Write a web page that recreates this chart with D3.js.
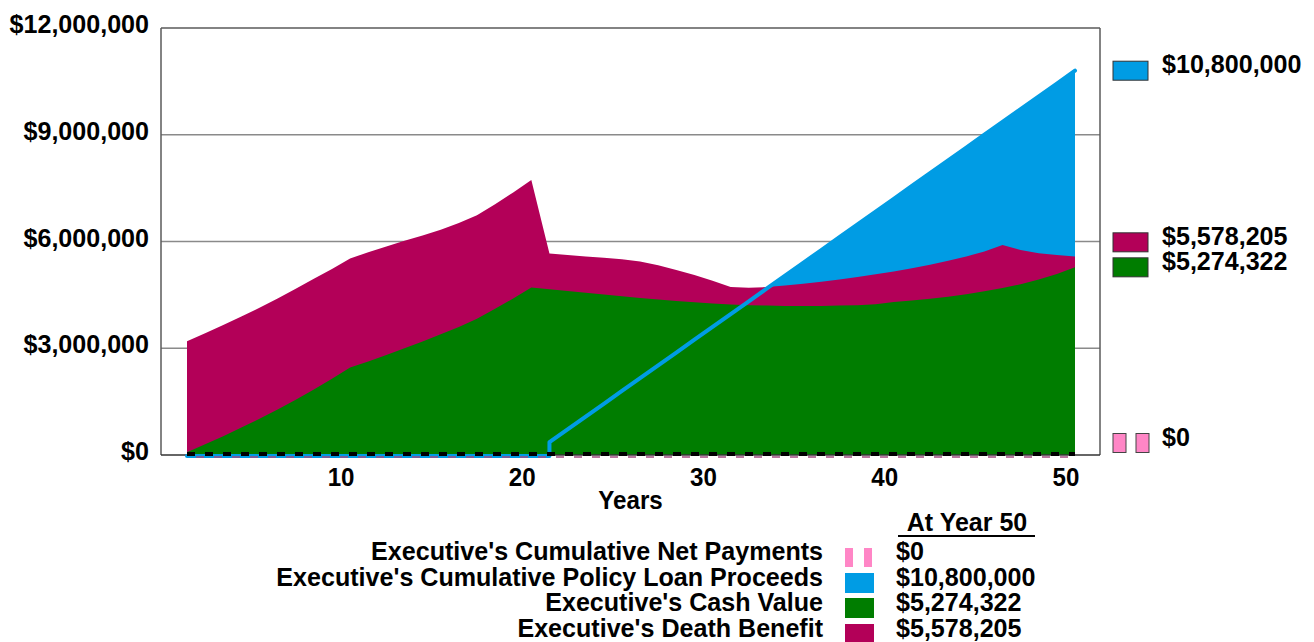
<!DOCTYPE html>
<html>
<head>
<meta charset="utf-8">
<script src="https://cdn.jsdelivr.net/npm/d3@7"></script>
<style>
  html, body { margin: 0; padding: 0; background: #fff; }
  svg { display: block; }
  text { font-family: "Liberation Sans", Arial, sans-serif; font-weight: bold; fill: #000; }
</style>
</head>
<body>
<svg id="chart" width="1314" height="642"></svg>
<script>
// Policy illustration values by policy year
const years = d3.range(1, 51);

const deathBenefit = [
  3200000, 3420000, 3650000, 3890000, 4140000, 4400000, 4670000, 4950000, 5230000, 5520000,
  5700000, 5860000, 6020000, 6170000, 6330000, 6520000, 6740000, 7050000, 7380000, 7730000,
  5660000, 5620000, 5580000, 5540000, 5500000, 5440000, 5330000, 5200000, 5060000, 4900000,
  4720000, 4700000, 4720000, 4760000, 4810000, 4870000, 4930000, 5000000, 5080000, 5160000,
  5250000, 5350000, 5460000, 5580000, 5720000, 5900000, 5760000, 5670000, 5620000, 5578205
];

const cashValue = [
  80000, 300000, 530000, 770000, 1020000, 1280000, 1550000, 1840000, 2140000, 2460000,
  2630000, 2810000, 3000000, 3190000, 3390000, 3600000, 3830000, 4110000, 4400000, 4710000,
  4660000, 4610000, 4560000, 4510000, 4460000, 4410000, 4370000, 4330000, 4290000, 4260000,
  4230000, 4210000, 4200000, 4190000, 4190000, 4190000, 4200000, 4210000, 4240000, 4300000,
  4340000, 4390000, 4450000, 4520000, 4600000, 4690000, 4800000, 4930000, 5090000, 5274322
];

const loanProceeds = [
  0, 0, 0, 0, 0, 0, 0, 0, 0, 0,
  0, 0, 0, 0, 0, 0, 0, 0, 0, 0,
  360000, 720000, 1080000, 1440000, 1800000, 2160000, 2520000, 2880000, 3240000, 3600000,
  3960000, 4320000, 4680000, 5040000, 5400000, 5760000, 6120000, 6480000, 6840000, 7200000,
  7560000, 7920000, 8280000, 8640000, 9000000, 9360000, 9720000, 10080000, 10440000, 10800000
];

const netPayments = years.map(() => 0);

const yTicks = [0, 3000000, 6000000, 9000000, 12000000];
const xTicks = [10, 20, 30, 40, 50];

const seriesNames = [
  "Executive's Cumulative Net Payments",
  "Executive's Cumulative Policy Loan Proceeds",
  "Executive's Cash Value",
  "Executive's Death Benefit"
];
const seriesColors = ["#ff86c6", "#009ce4", "#007d00", "#b30058"];
const seriesFinal = [
  netPayments[49], loanProceeds[49], cashValue[49], deathBenefit[49]
];

// ---- layout ----
const svg = d3.select("#chart");
const plot = { left: 161, top: 28, right: 1100, bottom: 455 };

const x = d3.scaleLinear().domain([1, 50]).range([187, 1075]);
const y = d3.scaleLinear().domain([0, 12000000]).range([plot.bottom, plot.top]);
const money = v => "$" + d3.format(",")(v);

// slightly condensed bold label
function label(g, px, py, str, size, anchor) {
  return g.append("text")
    .attr("transform", `translate(${px},${py}) scale(0.965,1)`)
    .attr("text-anchor", anchor || "start")
    .style("font-size", size + "px")
    .text(str);
}

// horizontal gridlines (behind the areas)
svg.append("g").selectAll("line")
  .data(yTicks.filter(v => v > 0 && v < 12000000))
  .join("line")
  .attr("x1", plot.left).attr("x2", plot.right)
  .attr("y1", d => y(d)).attr("y2", d => y(d))
  .attr("stroke", "#8a8a8a").attr("stroke-width", 1.5);

const rows = years.map((yr, i) => ({
  year: yr, db: deathBenefit[i], cv: cashValue[i], loan: loanProceeds[i], net: netPayments[i]
}));
const loanRows = rows.filter(d => d.loan > 0);

// loan proceeds area (only from the first loan year onward)
svg.append("path")
  .datum(loanRows)
  .attr("fill", seriesColors[1])
  .attr("d", d3.area().x(d => x(d.year)).y0(y(0)).y1(d => y(d.loan)));

// death benefit area
svg.append("path")
  .datum(rows)
  .attr("fill", seriesColors[3])
  .attr("d", d3.area().x(d => x(d.year)).y0(y(0)).y1(d => y(d.db)));

// cash value area
svg.append("path")
  .datum(rows)
  .attr("fill", seriesColors[2])
  .attr("d", d3.area().x(d => x(d.year)).y0(y(0)).y1(d => y(d.cv)));

// plot frame
const frame = svg.append("g").attr("stroke", "#5a5a5a").attr("stroke-width", 1.5).attr("fill", "none");
frame.append("line").attr("x1", plot.left).attr("x2", plot.left).attr("y1", plot.top).attr("y2", plot.bottom);
frame.append("line").attr("x1", plot.left).attr("x2", plot.right).attr("y1", plot.top).attr("y2", plot.top);
frame.append("line").attr("x1", plot.right).attr("x2", plot.right).attr("y1", plot.top).attr("y2", plot.bottom);
frame.append("line").attr("x1", plot.left).attr("x2", plot.right).attr("y1", plot.bottom).attr("y2", plot.bottom)
  .attr("stroke", "#333");

// loan proceeds line: zero until the first loan year, then the cumulative total
const firstLoan = loanRows[0].year;
const loanLinePts = rows.filter(d => d.year <= firstLoan).map(d => ({ year: d.year, v: 0 }))
  .concat(loanRows.map(d => ({ year: d.year, v: d.loan })));
svg.append("path")
  .datum(loanLinePts)
  .attr("fill", "none")
  .attr("stroke", seriesColors[1])
  .attr("stroke-width", 4)
  .attr("stroke-linejoin", "round")
  .attr("stroke-linecap", "round")
  .attr("d", d3.line().x(d => x(d.year)).y(d => y(d.v) + (d.v === 0 ? 1 : 0)));

// cumulative net payments: dashed line at zero
const netLine = d3.line().x(d => x(d.year)).y(d => y(d.net));
svg.append("path")
  .datum(rows)
  .attr("fill", "none")
  .attr("stroke", "#a04c80")
  .attr("stroke-width", 1.5)
  .attr("stroke-dasharray", "8,10")
  .attr("stroke-dashoffset", -9)
  .attr("transform", "translate(0,2)")
  .attr("d", netLine);
svg.append("path")
  .datum(rows)
  .attr("fill", "none")
  .attr("stroke", "#000")
  .attr("stroke-width", 4)
  .attr("stroke-dasharray", "8,10")
  .attr("transform", "translate(0,-1)")
  .attr("d", netLine);

// y-axis labels
const yLab = svg.append("g");
yTicks.forEach(v => label(yLab, 149, y(v) + 5, money(v), 26, "end"));

// x-axis labels (centred on each year interval)
const xLab = svg.append("g");
xTicks.forEach(t => label(xLab, x(t - 0.5), 486, t, 25, "middle"));
label(svg, (plot.left + plot.right) / 2, 509, "Years", 25, "middle");

// end-of-series value labels on the right
const endLabels = [
  { i: 1, v: loanProceeds[49] },
  { i: 3, v: deathBenefit[49] },
  { i: 2, v: cashValue[49] },
  { i: 0, v: netPayments[49] }
].map(d => ({ ...d, c: Math.min(y(d.v), y(0) - 12) }));
endLabels.sort((a, b) => b.c - a.c);
for (let k = 1; k < endLabels.length; k++) {
  if (endLabels[k - 1].c - endLabels[k].c < 25) endLabels[k].c = endLabels[k - 1].c - 25;
}
const endG = svg.append("g");
endLabels.forEach(d => {
  if (d.i === 0) {
    [1113, 1136].forEach(px => endG.append("rect")
      .attr("x", px).attr("y", d.c - 9.5).attr("width", 13).attr("height", 19)
      .attr("fill", seriesColors[0]).attr("stroke", "#444").attr("stroke-width", 1));
  } else {
    endG.append("rect")
      .attr("x", 1113).attr("y", d.c - 9.5).attr("width", 35).attr("height", 19)
      .attr("fill", seriesColors[d.i]).attr("stroke", "#333").attr("stroke-width", 1);
  }
  label(endG, 1162, d.c + 2.5, money(d.v), 26);
});

// bottom legend
const leg = svg.append("g");
leg.append("text")
  .attr("x", 967).attr("y", 531)
  .attr("text-anchor", "middle")
  .style("font-size", "25px")
  .text("At Year 50");
leg.append("line")
  .attr("x1", 898).attr("x2", 1035).attr("y1", 536).attr("y2", 536)
  .attr("stroke", "#000").attr("stroke-width", 2);

const rowBase = [560, 586, 611, 637];
seriesNames.forEach((name, i) => {
  const b = rowBase[i];
  label(leg, 823, b, name, 26, "end");
  if (i === 0) {
    [845, 864].forEach(px => leg.append("rect")
      .attr("x", px).attr("y", b - 12).attr("width", 8).attr("height", 19)
      .attr("fill", seriesColors[0]));
  } else {
    leg.append("rect")
      .attr("x", 845).attr("y", b - 13).attr("width", 29).attr("height", 20)
      .attr("fill", seriesColors[i]);
  }
  label(leg, 896, b, money(seriesFinal[i]), 26);
});
</script>
</body>
</html>
